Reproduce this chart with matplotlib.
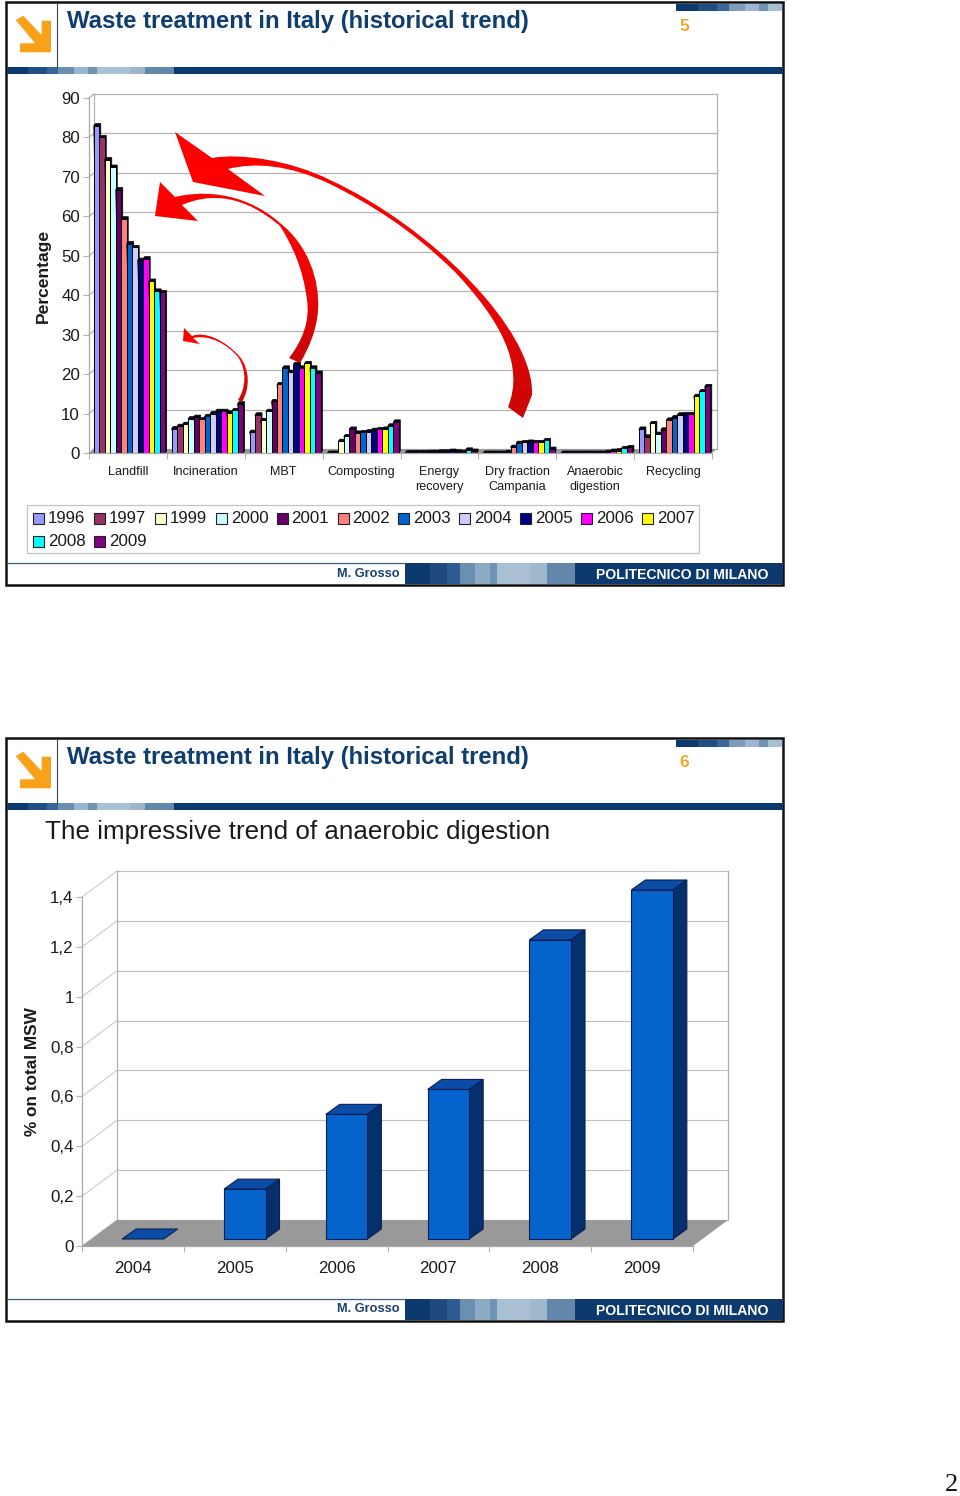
import numpy as np
import matplotlib
matplotlib.use("Agg")
import matplotlib.pyplot as plt
from matplotlib.colors import LinearSegmentedColormap
from matplotlib.patches import PathPatch, Polygon, Rectangle
from matplotlib.path import Path
from matplotlib.transforms import IdentityTransform

plt.rcParams["font.family"] = ["Liberation Sans", "DejaVu Sans"]

W, H = 960, 1496

# ------------------------------------------------
# Data
# ------------------------------------------------
years = ["1996", "1997", "1999", "2000", "2001", "2002", "2003",
         "2004", "2005", "2006", "2007", "2008", "2009"]
year_colors = ["#9999ff", "#993366", "#ffffcc", "#ccffff", "#660066", "#ff8080",
               "#0066cc", "#ccccff", "#000080", "#ff00ff", "#ffff00", "#00ffff", "#800080"]
categories = ["Landfill", "Incineration", "MBT", "Composting", "Energy\nrecovery",
              "Dry fraction\nCampania", "Anaerobic\ndigestion", "Recycling"]

landfill = [83.0, 80.0, 74.4, 72.5, 66.8, 59.4, 53.1, 52.1, 48.9, 49.3, 43.6, 41.1, 40.7]
incineration = [6.2, 6.8, 7.3, 8.7, 9.1, 8.5, 9.3, 10.0, 10.6, 10.6, 10.2, 10.8, 12.5]
mbt = [5.3, 9.7, 8.3, 10.6, 13.1, 17.4, 21.6, 20.5, 22.5, 21.6, 22.7, 21.6, 20.3]
composting = [0, 0, 3.0, 4.2, 6.1, 5.1, 5.2, 5.4, 5.8, 6.0, 6.1, 6.9, 7.9]
energy = [0.1, 0.1, 0.1, 0.1, 0.2, 0.2, 0.3, 0.3, 0.5, 0.3, 0.2, 0.8, 0.5]
dry_fraction = [0, 0, 0, 0, 0.2, 1.5, 2.5, 2.7, 2.8, 2.7, 2.7, 3.2, 1.0]
anaerobic = [0, 0, 0, 0, 0, 0, 0, 0, 0.2, 0.5, 0.6, 1.2, 1.4]
recycling = [6.1, 4.1, 7.5, 4.8, 5.9, 8.4, 9.0, 9.7, 9.8, 9.8, 14.4, 15.6, 16.9]
groups = [landfill, incineration, mbt, composting, energy, dry_fraction, anaerobic, recycling]

trend_years = ["2004", "2005", "2006", "2007", "2008", "2009"]
trend_values = [0, 0.2, 0.5, 0.6, 1.2, 1.4]
trend_ticks = [0, 0.2, 0.4, 0.6, 0.8, 1, 1.2, 1.4]
trend_labels = ["0", "0,2", "0,4", "0,6", "0,8", "1", "1,2", "1,4"]

fig = plt.figure(figsize=(W / 100, H / 100), dpi=100)


def box(left, top, right, bottom):
    return [left / W, 1 - bottom / H, (right - left) / W, (bottom - top) / H]


def shifted(ax, x, y, dx=0, dy=0):
    # data point moved by a pixel offset, for the fake 3D faces
    px = ax.transData.transform((x, y))
    return (px[0] + dx, px[1] + dy)


def face(ax, pts, fc, ec=None, lw=0, zorder=1):
    ax.add_patch(Polygon(pts, closed=True, facecolor=fc, edgecolor=ec or fc, linewidth=lw,
                         transform=IdentityTransform(), clip_on=False, zorder=zorder))


def pline(ax, p0, p1, color="#b4b4b4", lw=0.9, zorder=0.5):
    ax.plot([p0[0], p1[0]], [p0[1], p1[1]], color=color, lw=lw, zorder=zorder,
            transform=IdentityTransform(), clip_on=False, scaley=False, scalex=False)


# ------------------------------------------------
# Top chart
# ------------------------------------------------
ax1 = fig.add_axes(box(89, 98, 712, 453), facecolor="none")
ax1.set_xlim(0, 8)
ax1.set_ylim(0, 90)
fig.canvas.draw()

DX1, DY1 = 5, 4
for v in range(0, 100, 10):
    pline(ax1, shifted(ax1, 0, v), shifted(ax1, 0, v, DX1, DY1))
    pline(ax1, shifted(ax1, 0, v, DX1, DY1), shifted(ax1, 8, v, DX1, DY1))
pline(ax1, shifted(ax1, 0, 0, DX1, DY1), shifted(ax1, 0, 90, DX1, DY1))
pline(ax1, shifted(ax1, 8, 0, DX1, DY1), shifted(ax1, 8, 90, DX1, DY1))
face(ax1, [shifted(ax1, 0, 0), shifted(ax1, 8, 0), shifted(ax1, 8, 0, DX1, DY1),
           shifted(ax1, 0, 0, DX1, DY1)], "#999999", zorder=0.6)

bar_w = 5.5 / 78
bar_start = 4.8 / 78
for g, values in enumerate(groups):
    for j, v in enumerate(values):
        x0 = g + bar_start + j * bar_w
        x1 = x0 + bar_w
        dx, dy = 1.5, 2
        # side and top of the little 3D bar, then the front
        face(ax1, [shifted(ax1, x0, v), shifted(ax1, x0, v, dx, dy), shifted(ax1, x1, v, dx, dy),
                   shifted(ax1, x1, 0, dx, dy), shifted(ax1, x1, 0)], "#06061a", "#000000", 0.5)
        ax1.bar(x0, v, width=bar_w, align="edge", color=year_colors[j],
                edgecolor="#000000", linewidth=0.7, clip_on=False)

ax1.set_yticks(range(0, 100, 10))
ax1.set_xticks(range(9))
ax1.set_xticklabels([])
ax1.set_xticks(np.arange(8) + 0.5, minor=True)
ax1.set_xticklabels(categories, minor=True, fontsize=9.1, color="#1a1a1a", linespacing=1.35)
ax1.tick_params(axis="x", which="major", length=4, color="#b4b4b4", width=0.8)
ax1.tick_params(axis="x", which="minor", length=0, pad=9.5)
ax1.tick_params(axis="y", length=4, color="#b4b4b4", width=0.8, labelsize=12.2,
                labelcolor="#1a1a1a", pad=2.5)
for side in ["top", "right"]:
    ax1.spines[side].set_visible(False)
for side in ["left", "bottom"]:
    ax1.spines[side].set_color("#a8a8a8")
    ax1.spines[side].set_linewidth(0.9)
ax1.set_ylabel("Percentage", fontsize=12.6, fontweight="bold", color="#1a1a1a", labelpad=7)

# ------------------------------------------------
# Bottom chart
# ------------------------------------------------
ax2 = fig.add_axes(box(82, 897, 693, 1246), facecolor="none")
ax2.set_xlim(0, 6)
ax2.set_ylim(0, 1.4)
fig.canvas.draw()

DX2, DY2 = 35, 26
for v in trend_ticks:
    pline(ax2, shifted(ax2, 0, v), shifted(ax2, 0, v, DX2, DY2), color="#cccccc", lw=0.8)
    pline(ax2, shifted(ax2, 0, v, DX2, DY2), shifted(ax2, 6, v, DX2, DY2), color="#c0c0c0", lw=0.8)
pline(ax2, shifted(ax2, 0, 0, DX2, DY2), shifted(ax2, 0, 1.4, DX2, DY2), color="#b0b0b0", lw=0.9)
pline(ax2, shifted(ax2, 6, 0, DX2, DY2), shifted(ax2, 6, 1.4, DX2, DY2), color="#b0b0b0", lw=0.9)
face(ax2, [shifted(ax2, 0, 0), shifted(ax2, 6, 0), shifted(ax2, 6, 0, DX2, DY2),
           shifted(ax2, 0, 0, DX2, DY2)], "#999999", zorder=0.6)

bw = 41.5 / 101.8
off_x, off_y = 10, 7
depth_x, depth_y = 14, 10
for i, v in enumerate(trend_values):
    x0 = i + 0.5 - bw / 2
    x1 = x0 + bw
    face(ax2, [shifted(ax2, x0, v, off_x, off_y), shifted(ax2, x1, v, off_x, off_y),
               shifted(ax2, x1, v, off_x + depth_x, off_y + depth_y),
               shifted(ax2, x0, v, off_x + depth_x, off_y + depth_y)],
         "#0a4ca6", "#0a1f55", 0.8, zorder=2)
    if v > 0:
        face(ax2, [shifted(ax2, x1, 0, off_x, off_y), shifted(ax2, x1, v, off_x, off_y),
                   shifted(ax2, x1, v, off_x + depth_x, off_y + depth_y),
                   shifted(ax2, x1, 0, off_x + depth_x, off_y + depth_y)],
             "#06306b", "#0a1f55", 0.8, zorder=2)
        face(ax2, [shifted(ax2, x0, 0, off_x, off_y), shifted(ax2, x1, 0, off_x, off_y),
                   shifted(ax2, x1, v, off_x, off_y), shifted(ax2, x0, v, off_x, off_y)],
             "#0563cc", "#0a1f55", 0.8, zorder=3)

ax2.set_yticks(trend_ticks)
ax2.set_yticklabels(trend_labels)
ax2.set_xticks(range(7))
ax2.set_xticklabels([])
ax2.set_xticks(np.arange(6) + 0.5, minor=True)
ax2.set_xticklabels(trend_years, minor=True, fontsize=12.2, color="#1a1a1a")
ax2.tick_params(axis="x", which="major", length=4, color="#b4b4b4", width=0.8)
ax2.tick_params(axis="x", which="minor", length=0, pad=10.5)
ax2.tick_params(axis="y", length=4, color="#b4b4b4", width=0.8, labelsize=12.2,
                labelcolor="#1a1a1a", pad=2)
for side in ["top", "right"]:
    ax2.spines[side].set_visible(False)
for side in ["left", "bottom"]:
    ax2.spines[side].set_color("#a8a8a8")
    ax2.spines[side].set_linewidth(0.9)
ax2.set_ylabel("% on total MSW", fontsize=12.4, fontweight="bold", color="#1a1a1a", labelpad=7)

# ------------------------------------------------
# Slide furniture and arrows, in pixel coordinates
# ------------------------------------------------
ov = fig.add_axes([0, 0, 1, 1], facecolor="none", zorder=5)
ov.set_xlim(0, W)
ov.set_ylim(H, 0)
ov.axis("off")

NAVY = "#0c3a6e"
ORANGE = "#f9a11b"
header_strip = [(7, 28, NAVY), (28, 47, "#1f4f84"), (47, 58, "#376796"), (58, 74, "#6c8fb0"),
                (74, 88, "#9db4cd"), (88, 97, "#6f93b3"), (97, 130, "#a8c1d5"),
                (130, 145, "#9db6cc"), (145, 174, "#6388aa"), (174, 783, NAVY)]
corner_strip = [(676, 698, NAVY), (698, 717, "#1f4f84"), (717, 729, "#376796"), (729, 745, "#7b9cba"),
                (745, 759, "#9fb5d2"), (759, 768, "#6f93b3"), (768, 782, "#a8c0d2")]
footer_strip = [(405, 430, NAVY), (430, 447, "#1f4a7f"), (447, 460, "#2f5c8f"), (460, 475, "#6a8fb0"),
                (475, 490, "#8eabc5"), (490, 497, "#6e93b5"), (497, 530, "#a9bfd2"),
                (530, 547, "#a0b8cc"), (547, 575, "#6387ab"), (575, 783, NAVY)]
logo = [(15.7, 20), (23.3, 15.7), (41.7, 35), (41.7, 20.7), (51, 20.7), (51, 52.3),
        (20, 52.3), (20, 43.3), (35, 43.3)]


def slide(y0, number):
    ov.add_patch(Rectangle((6, y0 + 2), 777, 583, fill=False, edgecolor="#111111", lw=1.8))
    ov.plot([57, 57], [y0 + 3, y0 + 67], color="#33465c", lw=0.8)
    for a, b, c in header_strip:
        ov.add_patch(Rectangle((a, y0 + 67), b - a, 7, color=c, lw=0))
    for a, b, c in corner_strip:
        ov.add_patch(Rectangle((a, y0 + 4), b - a, 7, color=c, lw=0))
    for a, b, c in footer_strip:
        ov.add_patch(Rectangle((a, y0 + 563), b - a, 21, color=c, lw=0))
    ov.plot([7, 405], [y0 + 562.5, y0 + 562.5], color="#3c5f80", lw=0.9)
    ov.add_patch(Polygon([(x, y + y0) for x, y in logo], color=ORANGE, lw=0))
    ov.text(67, y0 + 21, "Waste treatment in Italy (historical trend)", fontsize=17.2,
            fontweight="bold", color="#0f3d6e", va="center", ha="left")
    ov.text(684, y0 + 26, number, fontsize=12.5, fontweight="bold", color="#f4a62a",
            va="center", ha="center")
    ov.text(400, y0 + 573.5, "M. Grosso", fontsize=9.2, fontweight="bold", color="#17406e",
            va="center", ha="right")
    ov.text(596, y0 + 575, "POLITECNICO DI MILANO", fontsize=10.1, fontweight="bold", color="white",
            va="center", ha="left")


slide(0, "5")
slide(736, "6")

ov.text(45, 832, "The impressive trend of anaerobic digestion", fontsize=18.7, color="#1a1a1a",
        va="center", ha="left")
ov.text(951, 1485, "2", fontsize=19, family="Liberation Serif", color="#111111",
        va="center", ha="center")

# legend of the top chart
ov.add_patch(Rectangle((27, 505), 672, 48, fill=False, edgecolor="#c4c4c4", lw=0.9))
for i, (year, color) in enumerate(zip(years, year_colors)):
    row = 0 if i < 11 else 1
    col = i if i < 11 else i - 11
    y = 518 if row == 0 else 541
    x = 33 + col * 60.9
    ov.add_patch(Rectangle((x, y - 5.5), 11, 11, facecolor=color, edgecolor="#222222", lw=0.8))
    ov.text(x + 15, y, year, fontsize=12.2, color="#1a1a1a", va="center", ha="left")

M, L, C = Path.MOVETO, Path.LINETO, Path.CURVE4
arrow_big = [
    (M, (175, 132)), (L, (212, 158)),
    (C, (240, 153)), (C, (290, 160)), (C, (330, 180)),
    (C, (430, 226)), (C, (535, 330)), (C, (532, 395)),
    (L, (523, 418)), (L, (508, 407)),
    (C, (525, 365)), (C, (500, 320)), (C, (455, 272)),
    (C, (410, 228)), (C, (370, 204)), (C, (330, 184)),
    (C, (290, 165)), (C, (255, 162)), (C, (228, 169)),
    (L, (265, 196)), (L, (193, 182)), (L, (175, 132)),
]
arrow_mid = [
    (M, (160, 182)), (L, (175, 197)),
    (C, (195, 192)), (C, (240, 188)), (C, (280, 223)),
    (C, (308, 245)), (C, (320, 280)), (C, (318, 310)),
    (C, (317, 330)), (C, (308, 350)), (C, (300, 363)),
    (L, (289, 358)),
    (C, (303, 340)), (C, (310, 320)), (C, (307, 300)),
    (C, (303, 268)), (C, (292, 245)), (C, (280, 226)),
    (C, (245, 196)), (C, (212, 192)), (C, (182, 205)),
    (L, (198, 221)), (L, (155, 216)), (L, (160, 182)),
]
arrow_small = [
    (M, (184, 328)), (L, (192, 336)),
    (C, (205, 331)), (C, (225, 340)), (C, (240, 357)),
    (C, (250, 370)), (C, (250, 388)), (C, (242, 402)),
    (L, (238, 400)),
    (C, (246, 388)), (C, (247, 370)), (C, (238, 357)),
    (C, (228, 345)), (C, (210, 334)), (C, (193, 338)),
    (L, (200, 344)), (L, (183, 341)), (L, (184, 328)),
]
reds = LinearSegmentedColormap.from_list("reds", ["#ff0000", "#f20404", "#c80606"])
for arrow in [arrow_big, arrow_mid, arrow_small]:
    path = Path([p for _, p in arrow], [c for c, _ in arrow])
    ext = path.get_extents()
    img = ov.imshow(np.linspace(0, 1, 256)[:, None], cmap=reds, aspect="auto", origin="upper",
                    extent=(ext.x0, ext.x1, ext.y1, ext.y0), zorder=6)
    img.set_clip_path(PathPatch(path, transform=ov.transData))
ov.set_xlim(0, W)
ov.set_ylim(H, 0)

fig.savefig("out.png", dpi=100)
